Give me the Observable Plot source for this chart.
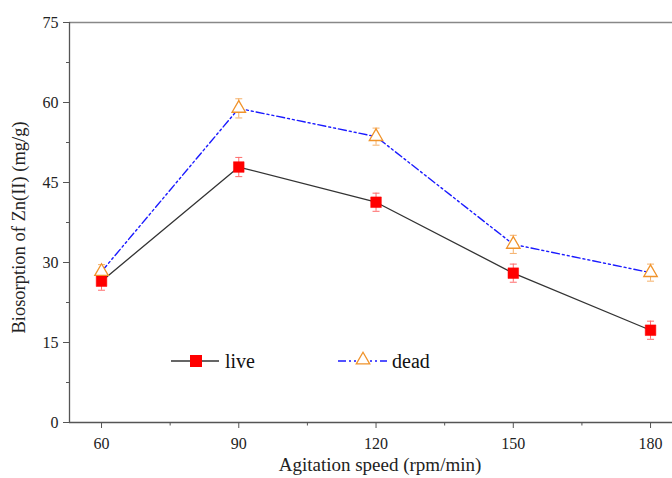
<!DOCTYPE html>
<html><head><meta charset="utf-8">
<script src="https://cdn.jsdelivr.net/npm/d3@7"></script>
<script src="https://cdn.jsdelivr.net/npm/@observablehq/plot@0.6"></script>
<style>
body{margin:0;background:#fff;}
#wrap{position:relative;width:672px;height:478px;font-family:"Liberation Serif","Times New Roman",serif;}
#legend{position:absolute;left:0;top:0;pointer-events:none;}
</style></head>
<body><div id="wrap"></div>
<script>
const speeds = [60, 90, 120, 150, 180];
const live = [26.5, 47.9, 41.3, 28.0, 17.3];
const dead = [28.3, 58.9, 53.6, 33.4, 28.1];
const liveErr = [1.7, 1.8, 1.7, 1.7, 1.7];
const deadErr = [1.3, 1.8, 1.6, 1.7, 1.6];
const xTicks = [60, 90, 120, 150, 180];
const xMinor = [75, 105, 135, 165];
const yTicks = [0, 15, 30, 45, 60, 75];
const yMinor = [7.5, 22.5, 37.5, 52.5, 67.5];
const xDomain = [53, 184.8];
const yDomain = [0, 75];
const xLabel = "Agitation speed (rpm/min)";
const yLabel = "Biosorption of Zn(II) (mg/g)";
const seriesNames = ["live", "dead"];

const liveRows = speeds.map((s, i) => ({s, v: live[i], e: liveErr[i]}));
const deadRows = speeds.map((s, i) => ({s, v: dead[i], e: deadErr[i]}));
const cap = {draw(ctx, size){ const r = 3.5; ctx.moveTo(-r, 0); ctx.lineTo(r, 0); }};

const errMarks = (rows, color) => [
  Plot.ruleX(rows, {x: "s", y1: d => d.v - d.e, y2: d => d.v + d.e, stroke: color, strokeWidth: 1}),
  Plot.dot(rows, {x: "s", y: d => d.v - d.e, symbol: cap, stroke: color, strokeWidth: 1, r: 3}),
  Plot.dot(rows, {x: "s", y: d => d.v + d.e, symbol: cap, stroke: color, strokeWidth: 1, r: 3})
];

const chart = Plot.plot({
  width: 672, height: 478,
  marginLeft: 69, marginRight: 0, marginTop: 22, marginBottom: 56,
  style: {fontFamily: "'Liberation Serif','Times New Roman',serif", fontSize: "16px", background: "#fff", color: "#222"},
  x: {domain: xDomain},
  y: {domain: yDomain},
  marks: [
    Plot.ruleY([yDomain[1]], {stroke: "#888", strokeWidth: 1.6}),
    Plot.ruleY([yDomain[0]], {stroke: "#555", strokeWidth: 1.3}),
    Plot.ruleX([xDomain[0]], {stroke: "#555", strokeWidth: 1.3}),
    Plot.axisX({ticks: xTicks, tickSize: 6, tickPadding: 9, fontSize: 16, label: null, stroke: "#555"}),
    Plot.axisX({ticks: xMinor, tickSize: 3.5, tickFormat: () => "", label: null, stroke: "#555"}),
    Plot.axisY({ticks: yTicks, tickSize: 6, tickPadding: 5, fontSize: 16, label: null, stroke: "#555"}),
    Plot.axisY({ticks: yMinor, tickSize: 3, tickFormat: () => "", label: null, stroke: "#555"}),
    Plot.text([xLabel], {frameAnchor: "bottom", dx: 9, dy: 48, fontSize: 19}),
    Plot.text([yLabel], {frameAnchor: "left", dx: -50, dy: 5, rotate: -90, textAnchor: "middle", fontSize: 18.5}),
    Plot.line(liveRows, {x: "s", y: "v", stroke: "#333", strokeWidth: 1.3}),
    Plot.line(deadRows, {x: "s", y: "v", stroke: "#1a1aff", strokeWidth: 1.4, strokeDasharray: "8,3,2,3,2,3"}),
    ...errMarks(liveRows, "#ff6b6b"),
    ...errMarks(deadRows, "#f5b069"),
    Plot.dot(liveRows, {x: "s", y: "v", symbol: "square", r: 6, fill: "#ff0000", stroke: "#ff0000", strokeWidth: 0.5}),
    Plot.dot(deadRows, {x: "s", y: "v", symbol: "triangle", r: 5, fill: "#fff", stroke: "#f0932b", strokeWidth: 1.3})
  ]
});
const wrap = document.getElementById("wrap");
wrap.appendChild(chart);

// legend overlay
const lg = d3.select(wrap).append("svg").attr("id", "legend").attr("width", 672).attr("height", 478);
const g1 = lg.append("g");
g1.append("line").attr("x1", 171).attr("x2", 219).attr("y1", 361).attr("y2", 361).attr("stroke", "#333").attr("stroke-width", 1.3);
g1.append("rect").attr("x", 190).attr("y", 355).attr("width", 12).attr("height", 12).attr("fill", "#ff0000");
g1.append("text").attr("x", 225).attr("y", 368).attr("font-size", 20).attr("font-family", "'Liberation Serif',serif").attr("fill", "#111").text(seriesNames[0]);
const g2 = lg.append("g");
g2.append("line").attr("x1", 338).attr("x2", 387).attr("y1", 361).attr("y2", 361).attr("stroke", "#1a1aff").attr("stroke-width", 1.4).attr("stroke-dasharray", "8,3,2,3,2,3");
g2.append("path").attr("d", d3.symbol(d3.symbolTriangle, Math.PI * 25)()).attr("transform", "translate(363,360)").attr("fill", "#fff").attr("stroke", "#f0932b").attr("stroke-width", 1.3);
g2.append("text").attr("x", 392).attr("y", 368).attr("font-size", 20).attr("font-family", "'Liberation Serif',serif").attr("fill", "#111").text(seriesNames[1]);
</script></body></html>
